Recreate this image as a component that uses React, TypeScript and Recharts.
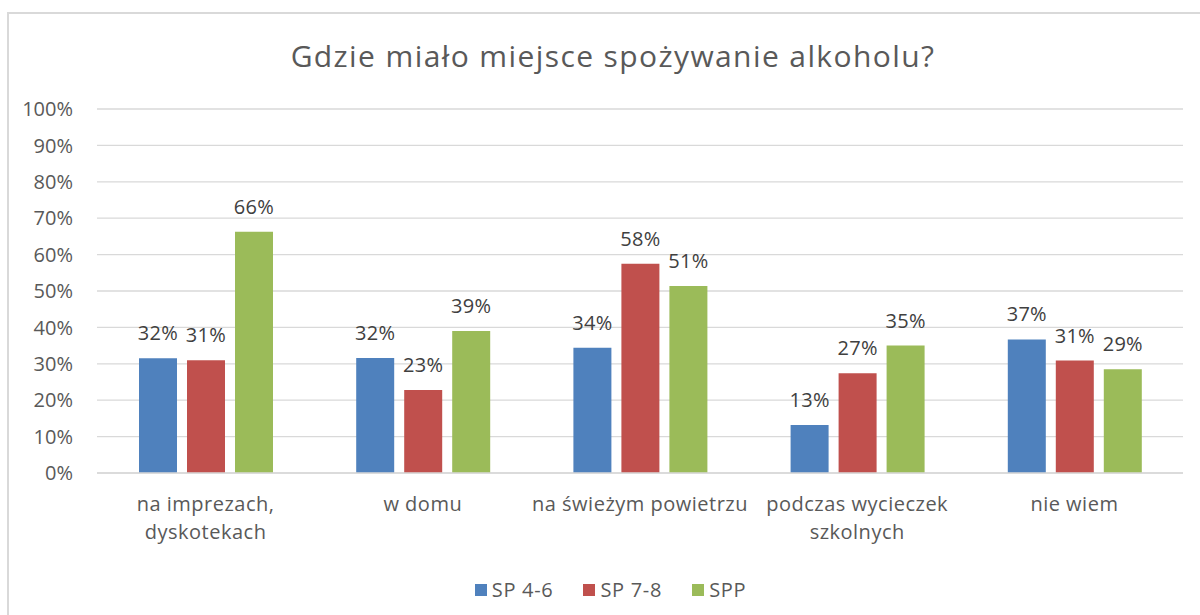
import { BarChart, Bar, XAxis, YAxis, CartesianGrid, Legend, LabelList } from 'recharts';

const categories = [
  'na imprezach,\ndyskotekach',
  'w domu',
  'na świeżym powietrzu',
  'podczas wycieczek\nszkolnych',
  'nie wiem',
];
const sp46 = [31.5, 31.6, 34.4, 13.2, 36.7];
const sp78 = [31.0, 22.8, 57.5, 27.4, 30.9];
const spp = [66.3, 39.0, 51.4, 35.0, 28.5];
const yTicks = [0, 10, 20, 30, 40, 50, 60, 70, 80, 90, 100];

const seriesList = [
  { key: 'sp46', name: 'SP 4-6', color: '#4f81bd' },
  { key: 'sp78', name: 'SP 7-8', color: '#c0504d' },
  { key: 'spp', name: 'SPP', color: '#9bbb59' },
];

const data = categories.map((c, i) => ({ name: c, sp46: sp46[i], sp78: sp78[i], spp: spp[i] }));

const FONT = '"Open Sans", Lato, sans-serif';

function CategoryTick({ x, y, payload }: any) {
  const lines = String(payload.value).split('\n');
  return (
    <text x={x} y={y + 30} textAnchor="middle" fill="#595959" fontSize={20} letterSpacing={0.5} fontFamily={FONT}>
      {lines.map((l, i) => (
        <tspan key={i} x={x} dy={i === 0 ? 0 : 28}>{l}</tspan>
      ))}
    </text>
  );
}

function LegendBox() {
  return (
    <div style={{ display: 'flex', justifyContent: 'center', gap: 30, fontFamily: FONT, fontSize: 20, letterSpacing: 0.7, color: '#595959', marginLeft: 38 }}>
      {seriesList.map(s => (
        <div key={s.key} style={{ display: 'flex', alignItems: 'center', gap: 5 }}>
          <div style={{ width: 12, height: 12, background: s.color }} />
          <span>{s.name}</span>
        </div>
      ))}
    </div>
  );
}

export default function App() {
  return (
    <div style={{ position: 'absolute', left: 0, top: 0, width: 1200, height: 615, overflow: 'hidden', background: '#fff', fontFamily: FONT }}>
      <div style={{ position: 'absolute', left: 7, top: 12, width: 1300, height: 700, border: '2px solid #d9d9d9' }} />
      <div style={{ position: 'absolute', left: 0, top: 35, width: 1226, textAlign: 'center', fontSize: 30, letterSpacing: 1.4, color: '#595959' }}>
        Gdzie miało miejsce spożywanie alkoholu?
      </div>
      <div style={{ position: 'absolute', left: 0, top: 0 }}>
        <BarChart
          width={1200}
          height={615}
          data={data}
          margin={{ top: 109, right: 17, left: 0, bottom: 12 }}
          barGap={10}
          barSize={38}
        >
          <CartesianGrid vertical={false} stroke="#d9d9d9" strokeWidth={1.3} />
          <XAxis
            dataKey="name"
            axisLine={{ stroke: '#d9d9d9', strokeWidth: 1.3 }}
            tickLine={false}
            tick={<CategoryTick />}
            interval={0}
            height={103}
          />
          <YAxis
            domain={[0, 100]}
            ticks={yTicks}
            width={97}
            axisLine={false}
            tickLine={false}
            tickMargin={18}
            tickFormatter={(v) => `${v}%`}
            tick={{ fill: '#595959', fontSize: 20, fontFamily: FONT }}
          />
          <Legend content={<LegendBox />} verticalAlign="bottom" />
          {seriesList.map(s => (
            <Bar key={s.key} dataKey={s.key} name={s.name} fill={s.color} isAnimationActive={false}>
              <LabelList
                dataKey={s.key}
                position="top"
                offset={18}
                formatter={(v: any) => `${Math.round(v)}%`}
                style={{ fill: '#404040', fontSize: 20, letterSpacing: 0.3, fontFamily: FONT }}
              />
            </Bar>
          ))}
        </BarChart>
      </div>
    </div>
  );
}
